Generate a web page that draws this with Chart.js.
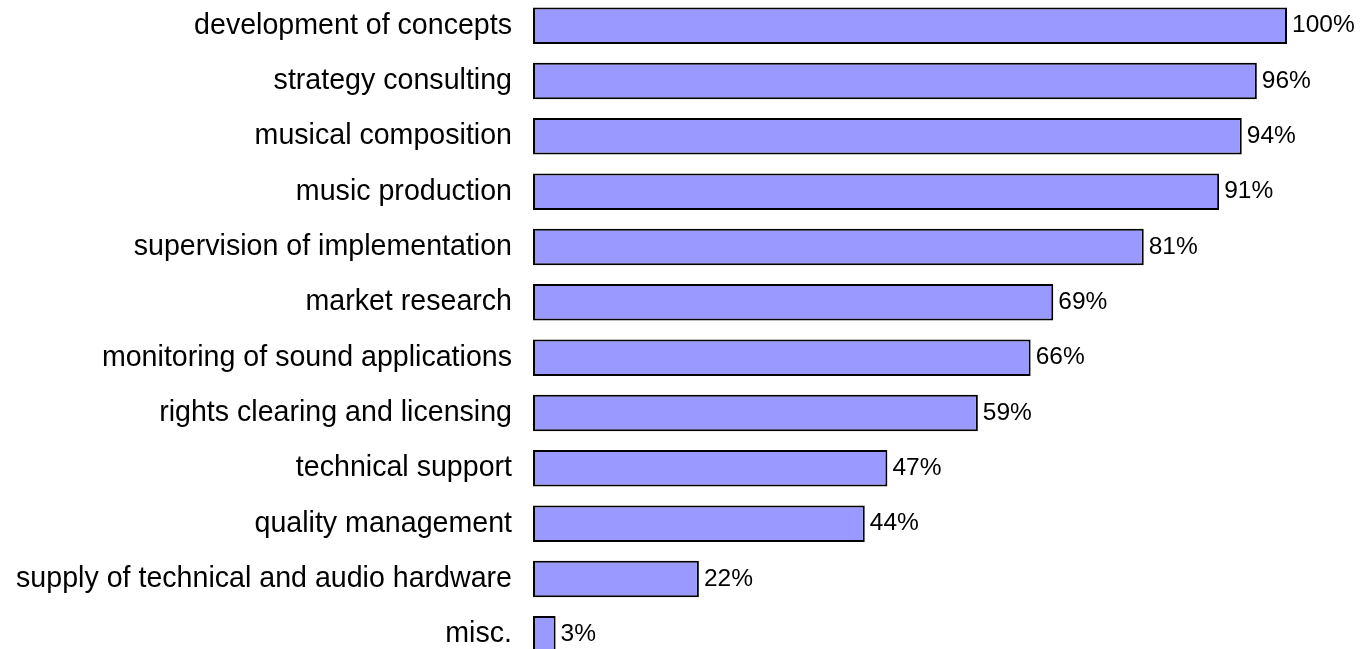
<!DOCTYPE html>
<html>
<head>
<meta charset="utf-8">
<script src="https://cdn.jsdelivr.net/npm/chart.js@4/dist/chart.umd.min.js"></script>
<style>
  html, body { margin: 0; padding: 0; background: #fff; overflow: hidden; width: 1362px; height: 649px; }
  #wrap { position: absolute; left: 0; top: -2px; width: 1362px; height: 664px; }
</style>
</head>
<body>
<div id="wrap"><canvas id="c" width="1362" height="664"></canvas></div>
<script>
const categories = [
  "development of concepts",
  "strategy consulting",
  "musical composition",
  "music production",
  "supervision of implementation",
  "market research",
  "monitoring of sound applications",
  "rights clearing and licensing",
  "technical support",
  "quality management",
  "supply of technical and audio hardware",
  "misc."
];
const values = [100, 96, 94, 91, 81, 69, 66, 59, 47, 44, 22, 3];
const valueLabels = ["100%", "96%", "94%", "91%", "81%", "69%", "66%", "59%", "47%", "44%", "22%", "3%"];

const valueLabelPlugin = {
  id: 'valueLabels',
  afterDatasetsDraw(chart) {
    const ctx = chart.ctx;
    const meta = chart.getDatasetMeta(0);
    ctx.save();
    ctx.font = '24.5px "Liberation Sans", Arial, sans-serif';
    ctx.fillStyle = '#000';
    ctx.textAlign = 'left';
    ctx.textBaseline = 'middle';
    meta.data.forEach((bar, i) => {
      ctx.fillText(valueLabels[i], bar.x + 5, bar.y);
    });
    ctx.restore();
  }
};

new Chart(document.getElementById('c'), {
  type: 'bar',
  data: {
    labels: categories,
    datasets: [{
      data: values,
      backgroundColor: '#9999FF',
      borderColor: '#000000',
      borderWidth: 2,
      borderSkipped: false,
      barPercentage: 0.66,
      categoryPercentage: 1.0
    }]
  },
  options: {
    indexAxis: 'y',
    responsive: false,
    animation: false,
    devicePixelRatio: 1,
    layout: { padding: { left: 0, right: 75, top: 0, bottom: 0 } },
    plugins: { legend: { display: false }, tooltip: { enabled: false } },
    scales: {
      x: { display: false, min: 0, max: 100 },
      y: {
        grid: { display: false, drawTicks: false },
        border: { display: false },
        ticks: {
          color: '#000',
          padding: 21,
          font: { family: '"Liberation Sans", Arial, sans-serif', size: 28.6 }
        },
        afterFit(scale) {
          scale.width = 533;
          scale.paddingTop = 0;
          scale.paddingBottom = 0;
        }
      }
    }
  },
  plugins: [valueLabelPlugin]
});
</script>
</body>
</html>
